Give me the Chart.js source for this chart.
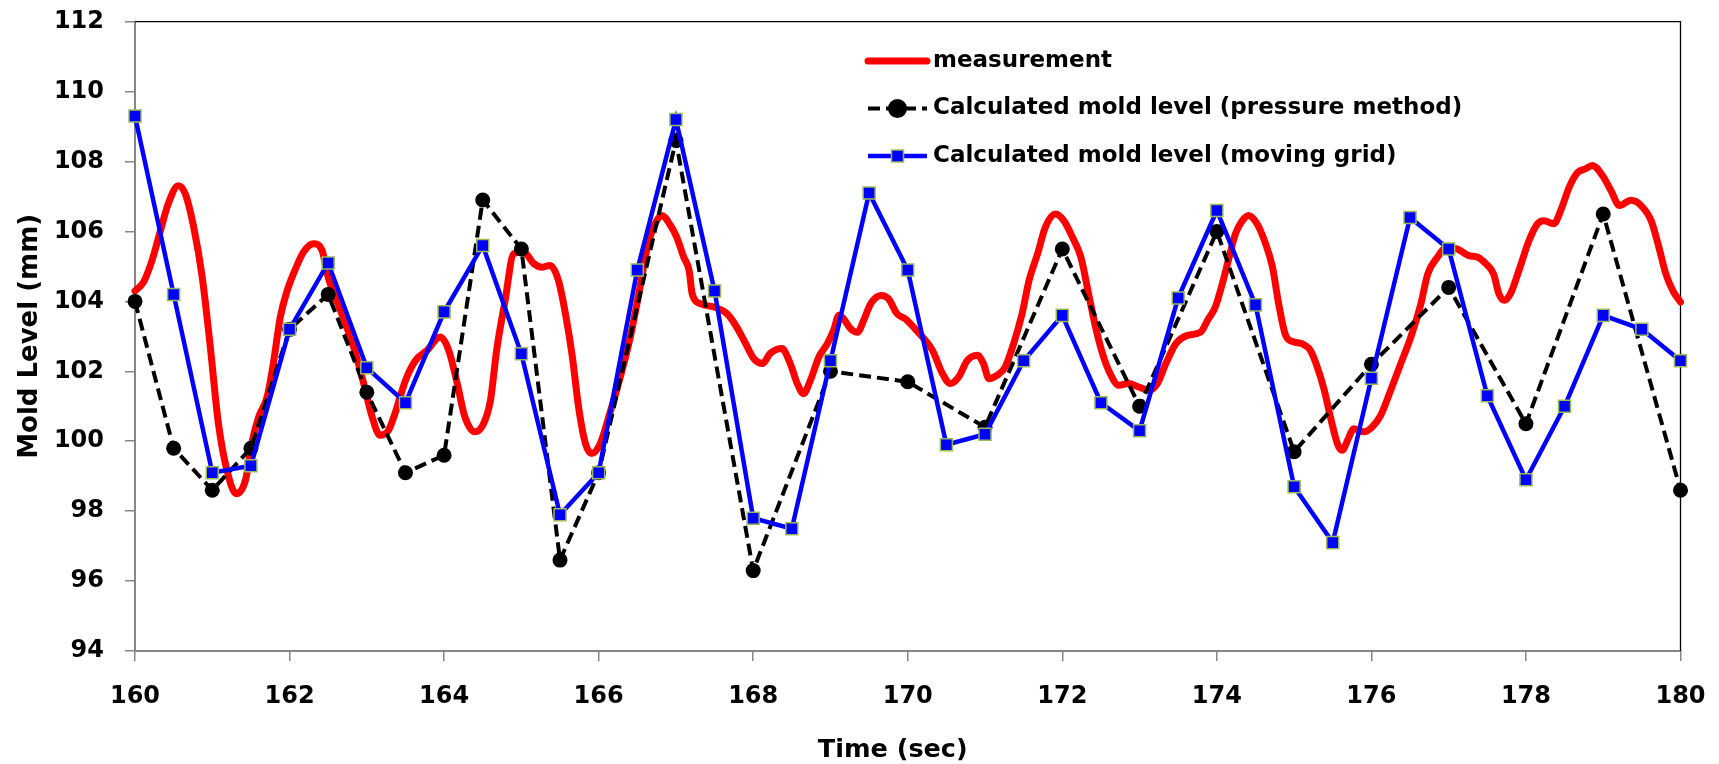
<!DOCTYPE html>
<html>
<head>
<meta charset="utf-8">
<script src="https://cdn.jsdelivr.net/npm/chart.js@4.4.1/dist/chart.umd.min.js"></script>
<style>
html,body{margin:0;padding:0;background:#ffffff;}
canvas{display:block;}
</style>
</head>
<body>
<canvas id="c" width="1719" height="764"></canvas>
<script>
// ---------------- data ----------------
const measTime = [160.0,160.11,160.22,160.33,160.43,160.56,160.65,160.76,160.87,160.97,161.08,161.19,161.31,161.43,161.51,161.6,161.71,161.79,161.88,161.97,162.07,162.18,162.31,162.42,162.5,162.66,162.83,162.96,163.07,163.17,163.28,163.38,163.5,163.63,163.78,163.95,164.06,164.17,164.27,164.4,164.51,164.6,164.68,164.79,164.9,165.03,165.16,165.27,165.37,165.48,165.57,165.66,165.74,165.83,165.91,166.02,166.13,166.28,166.41,166.52,166.63,166.73,166.82,166.93,167.01,167.1,167.17,167.21,167.32,167.49,167.66,167.76,167.88,168.01,168.12,168.22,168.37,168.48,168.57,168.65,168.74,168.85,168.96,169.04,169.11,169.17,169.26,169.35,169.43,169.52,169.65,169.75,169.86,169.97,170.1,170.19,170.32,170.45,170.55,170.66,170.77,170.9,170.98,171.05,171.16,171.26,171.37,171.48,171.57,171.68,171.78,171.91,172.02,172.13,172.24,172.34,172.43,172.52,172.62,172.73,172.86,172.99,173.12,173.23,173.34,173.47,173.62,173.79,173.88,173.98,174.07,174.16,174.24,174.33,174.41,174.52,174.63,174.72,174.8,174.89,175.0,175.1,175.21,175.3,175.39,175.47,175.56,175.62,175.71,175.77,175.9,176.01,176.12,176.25,176.38,176.51,176.64,176.73,176.85,176.98,177.11,177.26,177.37,177.48,177.58,177.65,177.72,177.8,177.91,178.04,178.15,178.23,178.36,178.45,178.56,178.67,178.77,178.86,178.99,179.1,179.21,179.36,179.49,179.62,179.72,179.81,179.9,180.0];
const measLevel = [104.3,104.55,105.17,106.03,106.79,107.31,107.08,106.12,104.69,102.79,100.5,99.17,98.5,98.89,99.93,100.69,101.27,102.22,103.55,104.31,104.89,105.41,105.65,105.46,104.69,103.74,102.69,101.65,100.69,100.17,100.31,100.9,101.74,102.31,102.6,102.98,102.6,101.65,100.69,100.27,100.5,101.17,102.6,104.03,105.36,105.41,105.08,104.98,105.03,104.6,103.65,102.41,100.98,99.93,99.65,99.93,100.69,101.84,102.98,104.22,105.55,106.22,106.46,106.17,105.84,105.27,104.89,104.22,103.93,103.84,103.65,103.36,102.89,102.36,102.22,102.51,102.65,102.22,101.65,101.36,101.74,102.41,102.79,103.17,103.6,103.5,103.22,103.12,103.46,103.93,104.17,104.08,103.65,103.5,103.2,102.98,102.6,101.93,101.65,101.84,102.31,102.46,102.22,101.79,101.89,102.12,102.79,103.65,104.6,105.36,106.12,106.5,106.31,105.84,105.27,104.22,103.27,102.51,101.93,101.6,101.65,101.55,101.46,101.65,102.22,102.79,103.03,103.12,103.46,103.84,104.5,105.27,105.93,106.31,106.46,106.22,105.65,104.98,103.93,103.03,102.84,102.79,102.6,102.12,101.46,100.69,99.93,99.74,100.12,100.36,100.27,100.41,100.74,101.46,102.22,102.98,103.93,104.79,105.25,105.55,105.5,105.31,105.27,105.08,104.79,104.22,104.03,104.22,104.89,105.74,106.22,106.31,106.22,106.6,107.27,107.69,107.79,107.89,107.6,107.17,106.74,106.89,106.74,106.31,105.55,104.79,104.31,103.98];

const pressTime  = [160,160.5,161,161.5,162,162.5,163,163.5,164,164.5,165,165.5,166,167,168,169,170,171,172,173,174,175,176,177,178,179,180];
const pressLevel = [104.0,99.8,98.6,99.8,103.2,104.2,101.4,99.1,99.6,106.9,105.5,96.6,99.1,108.6,96.3,102.0,101.7,100.4,105.5,101.0,106.0,99.7,102.2,104.4,100.5,106.5,98.6];

const gridTime  = [160,160.5,161,161.5,162,162.5,163,163.5,164,164.5,165,165.5,166,166.5,167,167.5,168,168.5,169,169.5,170,170.5,171,171.5,172,172.5,173,173.5,174,174.5,175,175.5,176,176.5,177,177.5,178,178.5,179,179.5,180];
const gridLevel = [109.3,104.2,99.1,99.3,103.2,105.1,102.1,101.1,103.7,105.6,102.5,97.9,99.1,104.9,109.2,104.3,97.8,97.5,102.3,107.1,104.9,99.9,100.2,102.3,103.6,101.1,100.3,104.1,106.6,103.9,98.7,97.1,101.8,106.4,105.5,101.3,98.9,101.0,103.6,103.2,102.3];

const xTicks = [160,162,164,166,168,170,172,174,176,178,180];
const yTicks = [94,96,98,100,102,104,106,108,110,112];

const seriesNames = ['measurement','Calculated mold level (pressure method)','Calculated mold level (moving grid)'];
const xTitle = 'Time (sec)';
const yTitle = 'Mold Level (mm)';

// ---------------- styling ----------------
const FONT = '"DejaVu Sans", sans-serif';
const AXIS_GRAY = '#868686';

function pts(xs, ys){ return xs.map((x,i)=>({x:x, y:ys[i]})); }

const frame = {
  id:'frame',
  beforeDatasetsDraw(chart){
    const {ctx, chartArea:a} = chart;
    ctx.save();
    ctx.strokeStyle = '#000';
    ctx.lineWidth = 1.3;
    ctx.beginPath();
    ctx.moveTo(a.left, a.top);
    ctx.lineTo(a.right, a.top);
    ctx.lineTo(a.right, a.bottom);
    ctx.stroke();
    ctx.restore();
  }
};

function drawMarker(ctx, ds, x, y){
  const r = ds.pointRadius;
  if (!r) return;
  ctx.save();
  ctx.setLineDash([]);
  ctx.fillStyle = ds.pointBackgroundColor;
  ctx.strokeStyle = ds.pointBorderColor;
  ctx.lineWidth = ds.pointBorderWidth || 0;
  ctx.beginPath();
  if (ds.pointStyle === 'rect') {
    const s = Math.SQRT1_2 * r;
    ctx.rect(x - s, y - s, 2*s, 2*s);
  } else {
    ctx.arc(x, y, r, 0, Math.PI*2);
  }
  ctx.fill();
  if (ctx.lineWidth > 0) ctx.stroke();
  ctx.restore();
}

const insideLegend = {
  id:'insideLegend',
  afterDraw(chart, args, o){
    const ctx = chart.ctx;
    ctx.save();
    o.order.forEach((di,row)=>{
      const ds = chart.data.datasets[di];
      const y = o.y0 + row*o.dy;
      ctx.beginPath();
      ctx.setLineDash(ds.borderDash || []);
      ctx.lineWidth = ds.borderWidth;
      ctx.strokeStyle = ds.borderColor;
      ctx.lineCap = ds.borderCapStyle || 'butt';
      ctx.moveTo(o.x0, y);
      ctx.lineTo(o.x1, y);
      ctx.stroke();
      ctx.setLineDash([]);
      drawMarker(ctx, ds, (o.x0+o.x1)/2, y);
      ctx.fillStyle = '#000';
      ctx.font = 'bold ' + o.size + 'px ' + FONT;
      ctx.textAlign = 'left';
      ctx.textBaseline = 'middle';
      ctx.fillText(ds.label, o.tx, y);
    });
    ctx.restore();
  }
};

const xAxisTitle = {
  id:'xAxisTitle',
  afterDraw(chart, args, o){
    const ctx = chart.ctx, a = chart.chartArea;
    ctx.save();
    ctx.fillStyle = '#000';
    ctx.font = 'bold ' + o.size + 'px ' + FONT;
    ctx.textAlign = 'center';
    ctx.textBaseline = 'middle';
    ctx.fillText(o.text, (a.left + a.right)/2 + o.dx, o.y);
    ctx.restore();
  }
};

new Chart(document.getElementById('c'), {
  type:'line',
  data:{
    datasets:[
      { label:seriesNames[0], data:pts(measTime, measLevel), borderColor:'#FF0000', backgroundColor:'#FF0000',
        borderWidth:7, pointRadius:0, tension:0.3, cubicInterpolationMode:'monotone',
        borderJoinStyle:'round', borderCapStyle:'round', order:2, clip:false },
      { label:seriesNames[1], data:pts(pressTime, pressLevel), borderColor:'#000000', backgroundColor:'#000000',
        borderWidth:4, borderDash:[12,6], pointStyle:'circle', pointRadius:7.5, pointBackgroundColor:'#000000',
        pointBorderColor:'#000000', pointBorderWidth:0, tension:0, order:1, clip:false },
      { label:seriesNames[2], data:pts(gridTime, gridLevel), borderColor:'#0000FF', backgroundColor:'#0000FF',
        borderWidth:4.5, pointStyle:'rect', pointRadius:8.5, pointBackgroundColor:'#0000FF',
        pointBorderColor:'#9BBB59', pointBorderWidth:1.5, tension:0, order:0, clip:false }
    ]
  },
  options:{
    responsive:false, animation:false, devicePixelRatio:1,
    layout:{ autoPadding:false, padding:{ left:0, top:21.7, right:38.5, bottom:0 } },
    plugins:{
      legend:{ display:false },
      tooltip:{ enabled:false },
      insideLegend:{ order:[0,1,2], x0:868, x1:927, tx:933, y0:61, dy:47.5, size:23 },
      xAxisTitle:{ text:xTitle, size:25.5, dx:-15, y:750 }
    },
    scales:{
      x:{
        type:'linear', min:xTicks[0], max:xTicks[xTicks.length-1],
        afterBuildTicks:(s)=>{ s.ticks = xTicks.map(v=>({value:v})); },
        afterFit:(s)=>{ s.height = 113; s.paddingLeft = 0; s.paddingRight = 0; s.paddingTop = 0; s.paddingBottom = 0; },
        grid:{ drawOnChartArea:false, drawTicks:true, tickLength:10, color:AXIS_GRAY, lineWidth:1.5 },
        border:{ display:true, color:AXIS_GRAY, width:2 },
        ticks:{ padding:21, color:'#000', maxRotation:0, autoSkip:false,
                font:{ family:FONT, size:24, weight:'bold' } },
        title:{ display:false }
      },
      y:{
        type:'linear', min:yTicks[0], max:yTicks[yTicks.length-1],
        afterBuildTicks:(s)=>{ s.ticks = yTicks.map(v=>({value:v})); },
        afterFit:(s)=>{ s.width = 135; s.paddingLeft = 0; s.paddingRight = 0; s.paddingTop = 0; s.paddingBottom = 0; },
        grid:{ drawOnChartArea:false, drawTicks:true, tickLength:10, color:AXIS_GRAY, lineWidth:1.5 },
        border:{ display:true, color:AXIS_GRAY, width:2 },
        ticks:{ padding:21, color:'#000', autoSkip:false,
                font:{ family:FONT, size:24, weight:'bold' } },
        title:{ display:true, text:yTitle, color:'#000', padding:{ top:17.5, bottom:0 },
                font:{ family:FONT, size:26, weight:'bold', lineHeight:1 } }
      }
    }
  },
  plugins:[frame, insideLegend, xAxisTitle]
});
</script>
</body>
</html>
